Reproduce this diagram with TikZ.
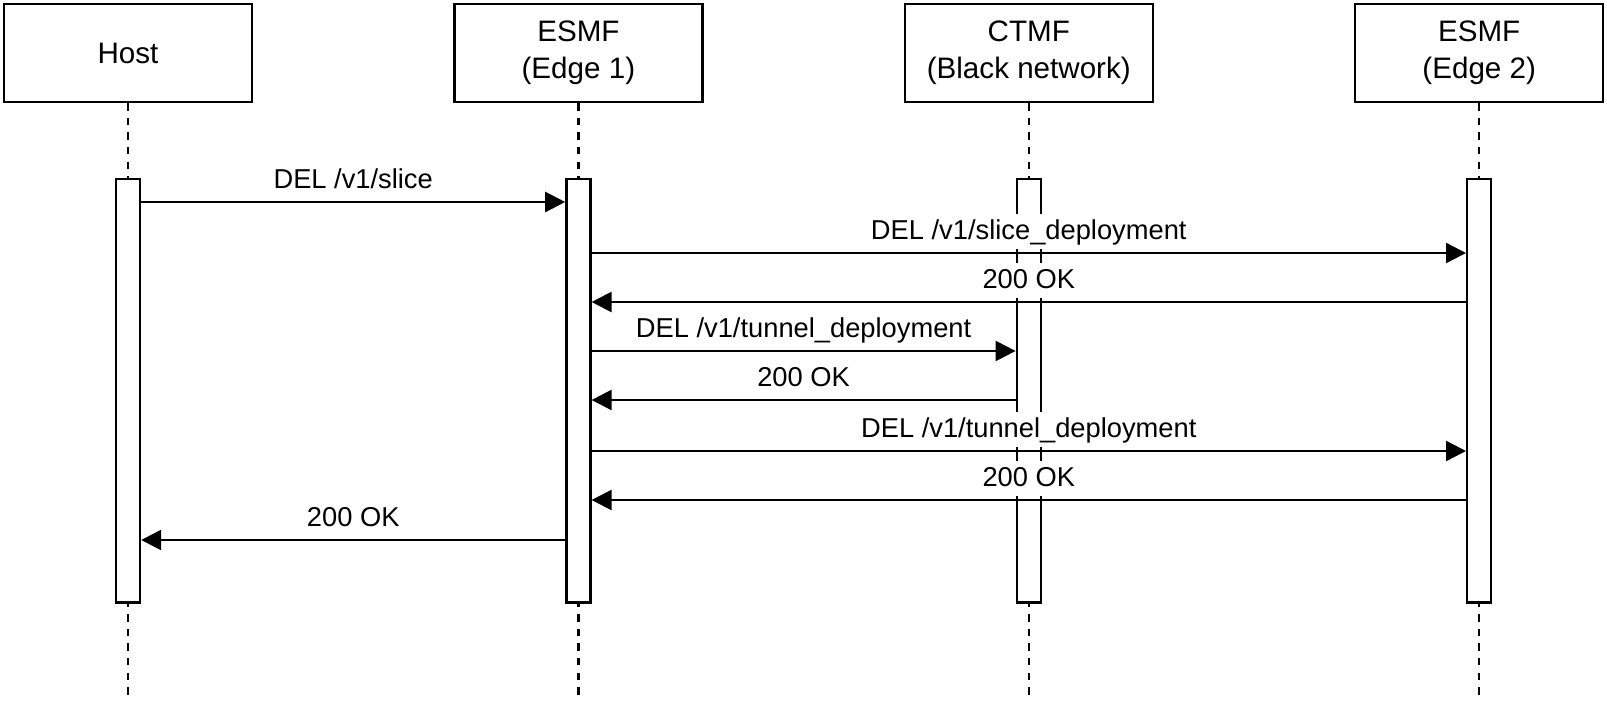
\documentclass[tikz,border=0pt]{standalone}
\usepackage{fontspec}
\setmainfont{Liberation Sans}
\usetikzlibrary{positioning,arrows.meta}

\begin{document}
\begin{tikzpicture}[x=0.5pt, y=-0.5pt,
  head/.style = {draw, line width=1.2pt, minimum width=124pt, minimum height=49pt, align=center, font=\fontsize{14.8}{18.3}\selectfont},
  bar/.style = {draw, line width=1.2pt, fill=white, minimum width=12pt, minimum height=211.75pt},
  life/.style = {line width=1.2pt, dash pattern=on 3.65pt off 3.65pt},
  msg/.style = {line width=1.2pt, -{Triangle[length=10pt, width=10pt]}},
  lbl/.style = {fill=white, anchor=base, yshift=6.75pt, inner xsep=2pt, inner ysep=1.5pt, text height=11.5pt, text depth=3pt, font=\fontsize{13.65}{16}\selectfont}]
\useasboundingbox (0,0) rectangle (1607,707);
\node[head] (host) at (128,53) {Host};
\node[head] (esmfa) [right=100pt of host] {ESMF\\(Edge 1)};
\node[head] (ctmf) [right=100pt of esmfa] {CTMF\\(Black network)};
\node[head] (esmfb) [right=100pt of ctmf] {ESMF\\(Edge 2)};
\coordinate (bottom) at (0,695);
\draw[life] (host) -- (host |- bottom);
\draw[life] (esmfa) -- (esmfa |- bottom);
\draw[life] (ctmf) -- (ctmf |- bottom);
\draw[life] (esmfb) -- (esmfb |- bottom);
\node[bar] (hostbar) [below=37.25pt of host] {};
\node[bar] (esmfabar) [below=37.25pt of esmfa] {};
\node[bar] (ctmfbar) [below=37.25pt of ctmf] {};
\node[bar] (esmfbbar) [below=37.25pt of esmfb] {};
\coordinate (m1) at (0,202);
\coordinate (m2) at (0,253);
\coordinate (m3) at (0,302);
\coordinate (m4) at (0,351);
\coordinate (m5) at (0,400);
\coordinate (m6) at (0,451);
\coordinate (m7) at (0,500);
\coordinate (m8) at (0,540);
\draw[msg] (hostbar.east |- m1) -- node[midway, lbl] {DEL /v1/slice} (esmfabar.west |- m1);
\draw[msg] (esmfabar.east |- m2) -- node[midway, lbl] {DEL /v1/slice\_deployment} (esmfbbar.west |- m2);
\draw[msg] (esmfbbar.west |- m3) -- node[midway, lbl] {200 OK} (esmfabar.east |- m3);
\draw[msg] (esmfabar.east |- m4) -- node[midway, lbl] {DEL /v1/tunnel\_deployment} (ctmfbar.west |- m4);
\draw[msg] (ctmfbar.west |- m5) -- node[midway, lbl] {200 OK} (esmfabar.east |- m5);
\draw[msg] (esmfabar.east |- m6) -- node[midway, lbl] {DEL /v1/tunnel\_deployment} (esmfbbar.west |- m6);
\draw[msg] (esmfbbar.west |- m7) -- node[midway, lbl] {200 OK} (esmfabar.east |- m7);
\draw[msg] (esmfabar.west |- m8) -- node[midway, lbl] {200 OK} (hostbar.east |- m8);
\end{tikzpicture}
\end{document}
